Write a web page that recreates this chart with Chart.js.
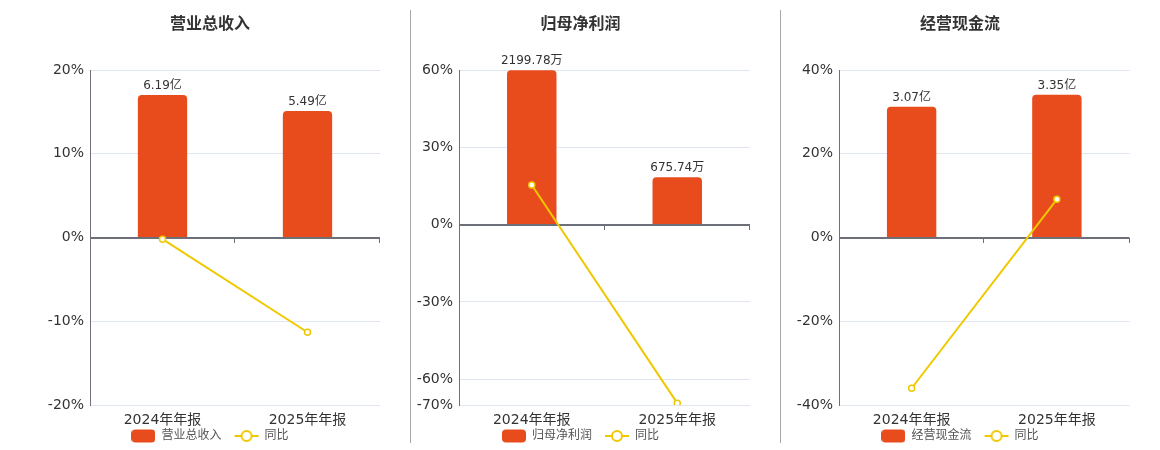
<!DOCTYPE html>
<html>
<head>
<meta charset="utf-8">
<script src="https://cdn.jsdelivr.net/npm/chart.js@4.4.1/dist/chart.umd.min.js"></script>
<style>
  html, body { margin: 0; padding: 0; background: #fff; }
  #wrap { position: relative; width: 1160px; height: 450px; overflow: hidden; }
  canvas { position: absolute; top: 0; }
  .divider { position: absolute; top: 10px; width: 1px; height: 433px; background: #a8a8a8; }
</style>
</head>
<body>
<div id="wrap">
  <canvas id="c1" width="420" height="450" style="left:0px"></canvas>
  <canvas id="c2" width="351" height="450" style="left:405px"></canvas>
  <canvas id="c3" width="350" height="450" style="left:785px"></canvas>
  <div class="divider" style="left:410px"></div>
  <div class="divider" style="left:780px"></div>
</div>
<script>
// ---------- data ----------
const categories = ['2024年年报', '2025年年报'];
const titles = ['营业总收入', '归母净利润', '经营现金流'];
const yoyLabel = '同比';

const revenueValues = [6.19, 5.49];       // 亿
const revenueYoY = [-0.2, -11.31];        // %
const revenueTicks = [-20, -10, 0, 10, 20];

const profitValues = [2199.78, 675.74];   // 万
const profitYoY = [15.4, -69.28];         // %
const profitTicks = [-70, -60, -30, 0, 30, 60];

const cashValues = [3.07, 3.35];          // 亿
const cashYoY = [-36.0, 9.12];            // %
const cashTicks = [-40, -20, 0, 20, 40];

const units = ['亿', '万', '亿'];

// ---------- style ----------
const FONT = "'DejaVu Sans', 'Noto Sans CJK SC', sans-serif";
const BAR_COLOR = '#e84c1c';
const LINE_COLOR = '#f0c800';
const AXIS_COLOR = '#6e7079';
const GRID_COLOR = '#e0e6f1';
Chart.defaults.font.family = FONT;

function makeBarIcon() {
  const c = document.createElement('canvas');
  c.width = 24; c.height = 14;
  const g = c.getContext('2d');
  g.fillStyle = BAR_COLOR;
  g.beginPath();
  g.roundRect(0, 0.5, 24, 13, 4);
  g.fill();
  return c;
}
function makeLineIcon() {
  const c = document.createElement('canvas');
  c.width = 26; c.height = 14;
  const g = c.getContext('2d');
  g.strokeStyle = LINE_COLOR;
  g.lineWidth = 2;
  g.beginPath(); g.moveTo(1, 7); g.lineTo(25, 7); g.stroke();
  g.beginPath(); g.arc(13, 7, 5, 0, Math.PI * 2);
  g.fillStyle = '#fff'; g.fill(); g.stroke();
  return c;
}
const icons = [makeBarIcon(), makeLineIcon()];

const zeroAxisPlugin = {
  id: 'zeroAxis',
  afterDatasetDraw(chart, args) {
    if (args.index !== 0) return;
    const {ctx, chartArea} = chart;
    const y0 = Math.round(chart.scales.y.getPixelForValue(0));
    ctx.save();
    ctx.strokeStyle = AXIS_COLOR;
    ctx.lineWidth = 2;
    ctx.beginPath();
    ctx.moveTo(chartArea.left, y0);
    ctx.lineTo(chartArea.right, y0);
    ctx.stroke();
    ctx.lineWidth = 1;
    const n = chart.data.labels.length;
    for (let i = 1; i <= n; i++) {
      const x = Math.round(chartArea.left + i * chartArea.width / n) - 0.5;
      ctx.beginPath();
      ctx.moveTo(x, y0);
      ctx.lineTo(x, y0 + 5);
      ctx.stroke();
    }
    ctx.restore();
  }
};

const barLabelPlugin = {
  id: 'barLabels',
  afterDatasetsDraw(chart, args, opts) {
    const meta = chart.getDatasetMeta(0);
    const ds = chart.data.datasets[0];
    const {ctx} = chart;
    ctx.save();
    ctx.font = '12px ' + FONT;
    ctx.fillStyle = '#333';
    ctx.textAlign = 'center';
    ctx.textBaseline = 'alphabetic';
    meta.data.forEach((bar, i) => {
      ctx.fillText(ds.data[i].toFixed(2) + opts.unit, bar.x, bar.y - 6);
    });
    ctx.restore();
  }
};

function buildChart(id, title, values, yoy, ticks, unit, barMax, leftW, rightW) {
  const tMin = ticks[0], tMax = ticks[ticks.length - 1];
  const barMin = barMax * tMin / tMax;
  return new Chart(document.getElementById(id), {
    type: 'bar',
    data: {
      labels: categories,
      datasets: [
        {
          type: 'bar',
          label: title,
          data: values,
          yAxisID: 'yBar',
          backgroundColor: BAR_COLOR,
          borderRadius: {topLeft: 4, topRight: 4, bottomLeft: 0, bottomRight: 0},
          borderSkipped: false,
          categoryPercentage: 1,
          barPercentage: 0.34,
          order: 1
        },
        {
          type: 'line',
          label: yoyLabel,
          data: yoy,
          yAxisID: 'y',
          borderColor: LINE_COLOR,
          borderWidth: 2,
          pointRadius: 3,
          pointBorderWidth: 1.5,
          pointBackgroundColor: '#fff',
          pointBorderColor: LINE_COLOR,
          tension: 0,
          order: 0
        }
      ]
    },
    options: {
      responsive: false,
      animation: false,
      layout: { padding: { top: 0, left: 0, right: 0, bottom: -2 } },
      scales: {
        x: {
          grid: { display: false, drawTicks: false },
          border: { display: false },
          ticks: { color: '#333', font: { size: 14 }, padding: 6.6, maxRotation: 0 },
          afterFit(s) { s.height = 12; s._computeLabelArea = () => undefined; }
        },
        y: {
          position: 'left',
          min: tMin, max: tMax,
          afterBuildTicks(s) { s.ticks = ticks.map(v => ({value: v})); },
          grid: {
            drawTicks: false,
            color: c => (c.tick && c.tick.value === 0) ? 'rgba(0,0,0,0)' : GRID_COLOR,
            lineWidth: 1
          },
          border: { display: true, color: AXIS_COLOR, width: 1 },
          ticks: { color: '#333', font: { size: 14 }, padding: 6, callback: v => v + '%' },
          afterFit(s) { s.width = leftW; }
        },
        yBar: {
          position: 'right',
          display: true,
          min: barMin, max: barMax,
          grid: { display: false, drawTicks: false },
          border: { display: false },
          ticks: { display: false },
          afterFit(s) { s.width = rightW; }
        }
      },
      plugins: {
        title: {
          display: true,
          text: title,
          color: '#333',
          font: { size: 16, weight: 'bold' },
          padding: { top: 15.4, bottom: 35.4 }
        },
        legend: {
          position: 'bottom',
          labels: {
            usePointStyle: true,
            pointStyleWidth: 24,
            color: '#555',
            font: { size: 12 },
            padding: 13,
            sort: (a, b) => a.datasetIndex - b.datasetIndex,
            generateLabels(chart) {
              const items = Chart.defaults.plugins.legend.labels.generateLabels(chart);
              items.forEach(it => { it.pointStyle = icons[it.datasetIndex]; });
              return items;
            }
          }
        },
        tooltip: { enabled: false },
        barLabels: { unit: unit }
      }
    },
    plugins: [zeroAxisPlugin, barLabelPlugin]
  });
}

buildChart('c1', titles[0], revenueValues, revenueYoY, revenueTicks, units[0], 7.27, 90, 40);
buildChart('c2', titles[1], profitValues, profitYoY, profitTicks, units[1], 2205, 54, 6);
buildChart('c3', titles[2], cashValues, cashYoY, cashTicks, units[2], 3.93, 54, 5);
</script>
</body>
</html>
